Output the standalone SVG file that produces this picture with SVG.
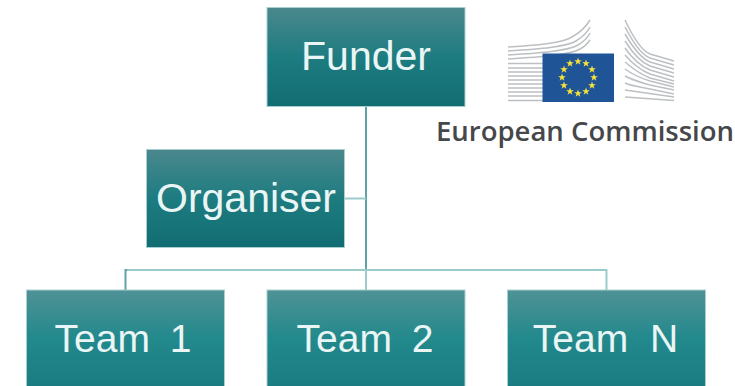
<svg xmlns="http://www.w3.org/2000/svg" width="735" height="386" viewBox="0 0 735 386">
<style>
.lbl{font-family:"Liberation Sans",Arial,sans-serif;font-size:41px;fill:#eaf5f5;text-anchor:middle}
.t{font-size:39px}
.box{stroke:#a8d0d0;stroke-width:1}
.c{stroke:#5fa3a5;stroke-width:2;fill:none}
.h{stroke:#9ccbcc;stroke-width:2;fill:none}
.g{stroke:#bcc0c2;stroke-width:1.5;fill:none}
.s{fill:#f6e33a}
</style>
<defs>
<linearGradient id="a" x1="0" y1="0" x2="0" y2="1"><stop offset="0" stop-color="#4a888d"/><stop offset=".5" stop-color="#1d7c80"/><stop offset="1" stop-color="#126d72"/></linearGradient>
<linearGradient id="b" x1="0" y1="0" x2="0" y2="1"><stop offset="0" stop-color="#4f9296"/><stop offset=".5" stop-color="#22898c"/><stop offset="1" stop-color="#1a7c80"/></linearGradient>
<polygon id="star" class="s" points="0,-4 1,-1.300 3.800,-1.300 1.500,.5 2.400,3.200 0,1.600 -2.400,3.200 -1.500,.5 -3.800,-1.300 -1,-1.300"/>
</defs>
<g id="connectors">
<path class="c" d="M366 107V270"/>
<path class="h" d="M366 270V290M345 198.500H366"/>
<path class="h" d="M126 270H606.500V290"/>
<path class="c" d="M125.500 290V270H127"/>
</g>
<g id="funder"><rect class="box" x="267" y="7.500" width="198" height="99" fill="url(#a)"/><text class="lbl" x="366" y="70">Funder</text></g>
<g id="organiser"><rect class="box" x="146.500" y="149.500" width="198" height="98" fill="url(#a)"/><text class="lbl" x="246" y="212">Organiser</text></g>
<g id="team1"><rect class="box" x="26.500" y="290" width="198" height="97" fill="url(#b)"/><text class="lbl t" x="123" y="352" word-spacing="9">Team 1</text></g>
<g id="team2"><rect class="box" x="267" y="290" width="198" height="97" fill="url(#b)"/><text class="lbl t" x="365" y="352" word-spacing="9">Team 2</text></g>
<g id="teamN"><rect class="box" x="507.500" y="290" width="198" height="97" fill="url(#b)"/><text class="lbl t" x="605.500" y="352" word-spacing="11">Team N</text></g>
<g id="logo">
<path class="g" d="M508 47C540 45 562 43 572 37C581 32 587 25 590 20"/>
<path class="g" d="M508 51C540 49 566 47 576 41C584 36 588 31 590 27"/>
<path class="g" d="M508 55C540 53 568 51 578 45C585 41 588 37 590 33"/>
<path class="g" d="M508 59C540 57 570 55 580 49C586 46 588 43 590 40"/>
<path class="g" d="M508 63.500H543M508 68H543M508 72H543M508 76H543M508 80H543M508 84H543M508 88H543M508 92H543M508 96H543M508 100.500H543"/>
<path class="g" d="M625 20C632 35 640 50 650 54L674 61"/>
<path class="g" d="M625 27C632 40 640 54 650 58L674 65"/>
<path class="g" d="M625 34C632 46 640 58 650 62L674 69"/>
<path class="g" d="M625 41C632 52 640 62 650 66L674 73"/>
<path class="g" d="M625 48C632 58 640 66 650 70L674 77"/>
<path class="g" d="M625 55C632 63 640 70 650 74L674 81"/>
<path class="g" d="M625 62C632 68 640 74 650 78L674 84"/>
<path class="g" d="M625 69C632 74 640 78 650 81L674 87"/>
<path class="g" d="M625 76C632 80 640 82 650 85L674 90"/>
<path class="g" d="M625 83C632 86 640 87 650 89L674 94"/>
<path class="g" d="M625 90L674 97M625 97L674 100.500"/>
<rect x="542.500" y="53.500" width="71.500" height="48.500" fill="#1f5596"/>
<use href="#star" x="578" y="61.500"/><use href="#star" x="570" y="63.500"/><use href="#star" x="586" y="63.500"/>
<use href="#star" x="564" y="69.500"/><use href="#star" x="592" y="69.500"/>
<use href="#star" x="562" y="77.500"/><use href="#star" x="594" y="77.500"/>
<use href="#star" x="564" y="85.500"/><use href="#star" x="592" y="85.500"/>
<use href="#star" x="570" y="91.500"/><use href="#star" x="586" y="91.500"/><use href="#star" x="578" y="93.500"/>
<text x="436" y="141" font-family="'Open Sans','Noto Sans',sans-serif" font-size="27.500" font-weight="600" fill="#45474a" textLength="298" lengthAdjust="spacing">European Commission</text>
</g>
</svg>
